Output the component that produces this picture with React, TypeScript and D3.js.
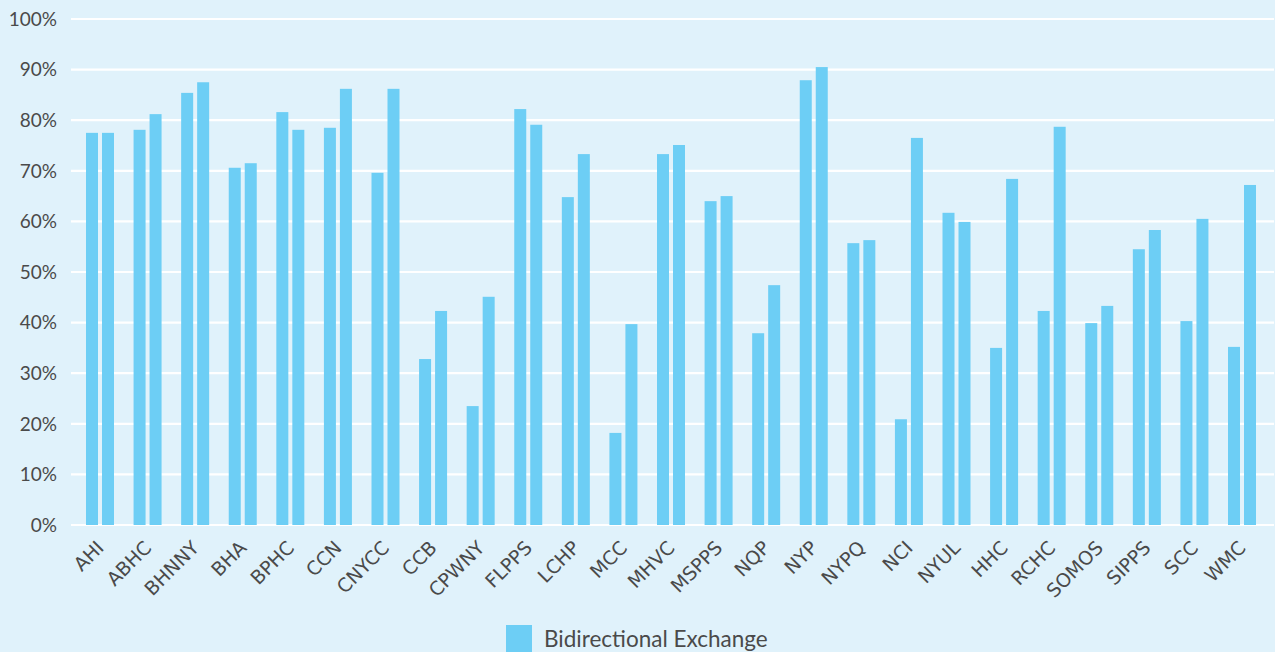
import React from "react";
import * as d3 from "d3";

const categories = ["AHI","ABHC","BHNNY","BHA","BPHC","CCN","CNYCC","CCB","CPWNY","FLPPS","LCHP","MCC","MHVC","MSPPS","NQP","NYP","NYPQ","NCI","NYUL","HHC","RCHC","SOMOS","SIPPS","SCC","WMC"];
const seriesA = [77.5,78.1,85.4,70.6,81.6,78.5,69.6,32.8,23.5,82.2,64.8,18.2,73.3,64.0,37.9,87.9,55.7,20.9,61.7,35.0,42.3,39.9,54.5,40.3,35.2];
const seriesB = [77.5,81.2,87.5,71.5,78.1,86.2,86.2,42.3,45.1,79.1,73.3,39.7,75.1,65.0,47.4,90.5,56.3,76.5,59.9,68.4,78.7,43.3,58.3,60.5,67.2];
const yTicks = [0,10,20,30,40,50,60,70,80,90,100];
const legendLabel = "Bidirectional Exchange";

const W = 1275, H = 652;
const BG = "#e0f2fb";
const BAR = "#6dcef5";
const TEXT = "#4a4a4a";
const FONT = "Lato, 'Open Sans', sans-serif";
const XFONT = "'DejaVu Sans', sans-serif";

export default function App() {
  React.useEffect(() => {
    document.body.style.margin = "0";
    document.body.style.background = BG;
  }, []);
  const x = d3.scaleBand<string>().domain(categories).range([76.2, 1265.8]).padding(0);
  const y = d3.scaleLinear().domain([0, 100]).range([525, 19]);
  const bw = 12, gap = 2;
  return (
    <svg width={W} height={H} style={{ display: "block" }}>
      <rect x={0} y={0} width={W} height={H} fill={BG} />
      {yTicks.map(t => (
        <g key={t}>
          <line x1={71} x2={1274} y1={y(t)} y2={y(t)} stroke="#ffffff" strokeWidth={2.2} />
          <text x={57} y={y(t)} dy="0.36em" textAnchor="end" fontFamily={FONT} fontSize={19} fill={TEXT}>{t}%</text>
        </g>
      ))}
      {categories.map((c, i) => {
        const cx = (x(c) as number) + x.bandwidth() / 2;
        return (
          <g key={c}>
            <rect x={cx - gap - bw} y={y(seriesA[i])} width={bw} height={y(0) - y(seriesA[i])} fill={BAR} />
            <rect x={cx + gap} y={y(seriesB[i])} width={bw} height={y(0) - y(seriesB[i])} fill={BAR} />
            <text transform={`translate(${cx + 5},${549}) rotate(-45)`} textAnchor="end" fontFamily={XFONT} fontSize={19} fill={TEXT}>{c}</text>
          </g>
        );
      })}
      <rect x={506} y={625} width={26} height={27} fill={BAR} />
      <text x={544} y={647} fontFamily={FONT} fontSize={22.5} fill={TEXT}>{legendLabel}</text>
    </svg>
  );
}
